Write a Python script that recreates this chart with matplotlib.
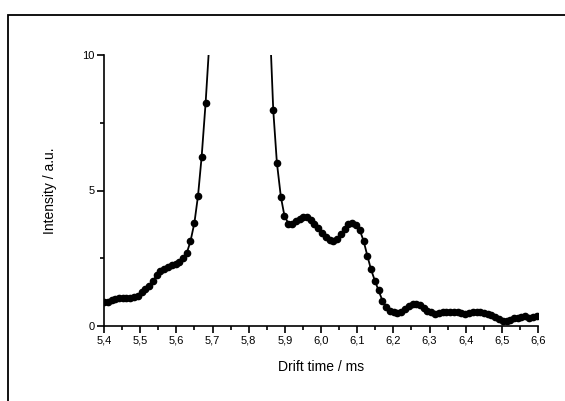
import numpy as np
import matplotlib
matplotlib.use('Agg')
import matplotlib.pyplot as plt
from matplotlib.ticker import MultipleLocator, FuncFormatter
from matplotlib.patches import Rectangle

plt.rcParams['font.family'] = ['Liberation Sans', 'DejaVu Sans']

# drift time (ms), sampled every ~0.0104 ms
drift_time = [5.400, 5.410, 5.421, 5.431, 5.442, 5.452, 5.462, 5.473, 5.483, 5.494,
              5.504, 5.514, 5.525, 5.535, 5.546, 5.556, 5.566, 5.577, 5.587, 5.598,
              5.608, 5.618, 5.629, 5.639, 5.650, 5.660, 5.670, 5.681, 5.691, 5.702,
              5.712, 5.722, 5.733, 5.743, 5.754, 5.764, 5.774, 5.785, 5.795, 5.806,
              5.816, 5.826, 5.837, 5.847, 5.858, 5.868, 5.878, 5.889, 5.899, 5.910,
              5.920, 5.930, 5.941, 5.951, 5.962, 5.972, 5.982, 5.993, 6.003, 6.014,
              6.024, 6.034, 6.045, 6.055, 6.066, 6.076, 6.086, 6.097, 6.107, 6.118,
              6.128, 6.138, 6.149, 6.159, 6.170, 6.180, 6.190, 6.201, 6.211, 6.222,
              6.232, 6.242, 6.253, 6.263, 6.274, 6.284, 6.294, 6.305, 6.315, 6.326,
              6.336, 6.346, 6.357, 6.367, 6.378, 6.388, 6.398, 6.409, 6.419, 6.430,
              6.440, 6.450, 6.461, 6.471, 6.482, 6.492, 6.502, 6.513, 6.523, 6.534,
              6.544, 6.554, 6.565, 6.575, 6.586, 6.596]

# intensity (a.u.), main peak goes off scale
intensity = [0.87, 0.90, 0.95, 1.00, 1.03, 1.05, 1.04, 1.03, 1.07, 1.12,
             1.25, 1.35, 1.47, 1.65, 1.88, 2.03, 2.12, 2.18, 2.25, 2.30,
             2.38, 2.50, 2.70, 3.12, 3.81, 4.81, 6.25, 8.24, 10.4, 13.0,
             17.0, 22.0, 28.0, 34.0, 40.0, 44.0, 46.0, 45.0, 42.0, 37.0,
             30.0, 23.0, 17.0, 13.5, 11.3, 7.96, 6.03, 4.77, 4.06, 3.78,
             3.76, 3.86, 3.96, 4.04, 4.02, 3.90, 3.75, 3.62, 3.45, 3.27,
             3.18, 3.14, 3.22, 3.38, 3.57, 3.75, 3.80, 3.72, 3.55, 3.13,
             2.60, 2.10, 1.67, 1.32, 0.93, 0.70, 0.56, 0.50, 0.48, 0.50,
             0.63, 0.74, 0.80, 0.82, 0.78, 0.65, 0.57, 0.52, 0.46, 0.47,
             0.50, 0.50, 0.50, 0.50, 0.50, 0.48, 0.43, 0.49, 0.50, 0.50,
             0.50, 0.48, 0.45, 0.42, 0.34, 0.24, 0.20, 0.20, 0.22, 0.30,
             0.31, 0.34, 0.36, 0.31, 0.32, 0.37]

fig = plt.figure(figsize=(5.65, 4.01), dpi=100)
# outer frame, only left and top edges show
fig.patches.append(Rectangle((8 / 565, -0.1), 1.2, 0.1 + (1 - 14.5 / 401),
                             transform=fig.transFigure, fill=False,
                             edgecolor='black', linewidth=1.3))

ax = fig.add_axes([104 / 565, 1 - 326 / 401, 434 / 565, 271 / 401])
ax.plot(drift_time, intensity, '-o', color='black', linewidth=1.3,
        markersize=4.5)

ax.set_xlim(5.4, 6.6)
ax.set_ylim(0, 10)
for s in ['top', 'right']:
    ax.spines[s].set_visible(False)
ax.spines['left'].set_linewidth(1.2)
ax.spines['bottom'].set_linewidth(1.2)

ax.xaxis.set_major_locator(MultipleLocator(0.1))
ax.xaxis.set_minor_locator(MultipleLocator(0.05))
ax.yaxis.set_major_locator(MultipleLocator(5))
ax.yaxis.set_minor_locator(MultipleLocator(2.5))
ax.xaxis.set_major_formatter(FuncFormatter(lambda v, p: f'{v:.1f}'.replace('.', ',')))
ax.yaxis.set_major_formatter(FuncFormatter(lambda v, p: f'{v:.0f}'))
ax.tick_params(which='major', length=5, width=1.2, labelsize=8, pad=2)
ax.tick_params(which='minor', length=3, width=1.2)

ax.set_xlabel('Drift time / ms', fontsize=10, labelpad=10)
ax.set_ylabel('Intensity / a.u.', fontsize=10, labelpad=18)

fig.savefig('out.png', dpi=100)
